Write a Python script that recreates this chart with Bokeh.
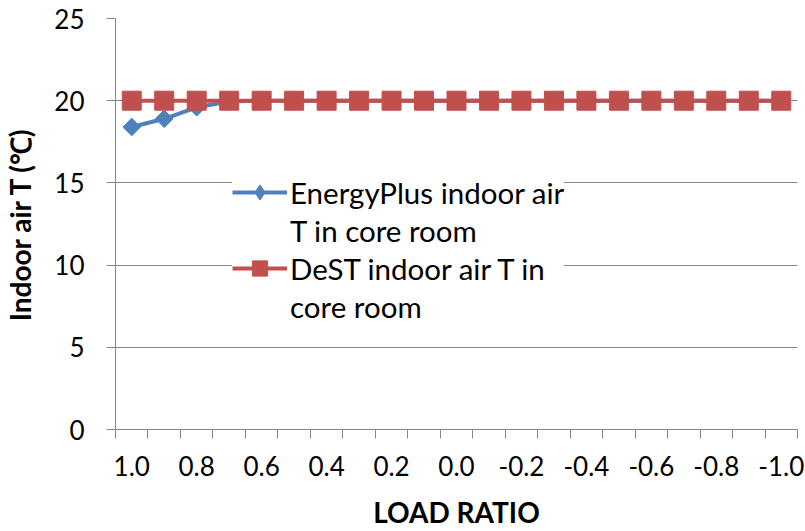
from bokeh.plotting import figure
from bokeh.models import Range1d, FixedTicker, NumeralTickFormatter, Legend, LegendItem
from bokeh.embed import file_html
from bokeh.resources import INLINE
import numpy as np

load_ratio = [1.0, 0.9, 0.8, 0.7, 0.6, 0.5, 0.4, 0.3, 0.2, 0.1, 0.0,
              -0.1, -0.2, -0.3, -0.4, -0.5, -0.6, -0.7, -0.8, -0.9, -1.0]
energyplus_T = [18.4, 18.9, 19.6, 19.95, 20.0, 20.0, 20.0, 20.0, 20.0, 20.0, 20.0,
                20.0, 20.0, 20.0, 20.0, 20.0, 20.0, 20.0, 20.0, 20.0, 20.0]
dest_T = [20.0] * 21
x_tick_labels = [1.0, 0.8, 0.6, 0.4, 0.2, 0.0, -0.2, -0.4, -0.6, -0.8, -1.0]
x_bounds = [1.05, 0.95, 0.85, 0.75, 0.65, 0.55, 0.45, 0.35, 0.25, 0.15, 0.05,
            -0.05, -0.15, -0.25, -0.35, -0.45, -0.55, -0.65, -0.75, -0.85, -0.95, -1.05]
y_ticks = [0, 5, 10, 15, 20, 25]

BLUE = "#4F81BD"
RED = "#C0504D"
GRAY = "#868686"
FONT = "Lato"

p = figure(width=805, height=531, output_backend="svg", toolbar_location=None,
           x_range=Range1d(1.05, -1.05), y_range=Range1d(0, 25),
           min_border_left=113, min_border_top=18, min_border_right=8, min_border_bottom=101)
p.outline_line_color = None
p.background_fill_color = "white"

# axes
p.xaxis.ticker = FixedTicker(ticks=x_tick_labels, minor_ticks=x_bounds)
p.xaxis.formatter = NumeralTickFormatter(format="0.0")
p.xaxis.major_tick_line_color = None
p.xaxis.minor_tick_line_color = GRAY
p.xaxis.minor_tick_out = 9
p.xaxis.minor_tick_in = 0
p.xaxis.axis_line_color = GRAY
p.xaxis.major_label_text_font = FONT
p.xaxis.major_label_text_font_size = "26px"
p.xaxis.major_label_text_color = "black"
p.xaxis.major_label_standoff = 17
p.xaxis.axis_label = "LOAD RATIO"
p.xaxis.axis_label_text_font = FONT
p.xaxis.axis_label_text_font_style = "bold"
p.xaxis.axis_label_text_font_size = "28px"
p.xaxis.axis_label_standoff = 16
p.xaxis.axis_label_text_color = "black"

p.yaxis.ticker = FixedTicker(ticks=y_ticks)
p.yaxis.minor_tick_line_color = None
p.yaxis.major_tick_line_color = GRAY
p.yaxis.major_tick_out = 9
p.yaxis.major_tick_in = 0
p.yaxis.axis_line_color = GRAY
p.yaxis.major_label_text_font = FONT
p.yaxis.major_label_text_font_size = "26px"
p.yaxis.major_label_text_color = "black"
p.yaxis.major_label_standoff = 22
p.yaxis.axis_label = "Indoor air T (℃)"
p.yaxis.axis_label_text_font = FONT
p.yaxis.axis_label_text_font_style = "bold"
p.yaxis.axis_label_text_font_size = "28px"
p.yaxis.axis_label_standoff = 14
p.yaxis.axis_label_text_color = "black"

p.xgrid.grid_line_color = None
p.ygrid.ticker = FixedTicker(ticks=y_ticks)
p.ygrid.grid_line_color = GRAY
p.ygrid.grid_line_width = 1

# series
l1 = p.line(load_ratio, energyplus_T, line_color=BLUE, line_width=4)
# diamond glyph used for the legend swatch; fully covered by the rotated squares below
s1_leg = p.scatter(load_ratio, energyplus_T, marker="diamond", size=15,
                   fill_color=BLUE, line_color=BLUE)
s1 = p.scatter(load_ratio, energyplus_T, marker="square", size=12.5, angle=np.pi / 4,
               fill_color=BLUE, line_color=BLUE)
l2 = p.line(load_ratio, dest_T, line_color=RED, line_width=4)
s2 = p.scatter(load_ratio, dest_T, marker="square", size=19,
               fill_color=RED, line_color=RED)

legend = Legend(items=[
    LegendItem(label="EnergyPlus indoor air", renderers=[l1, s1_leg]),
    LegendItem(label="T in core room", renderers=[]),
    LegendItem(label="DeST indoor air T in", renderers=[l2, s2]),
    LegendItem(label="core room", renderers=[]),
], location=(117, 104))
legend.label_text_font = FONT
legend.label_text_font_size = "29.5px"
legend.label_text_color = "black"
legend.border_line_color = None
legend.background_fill_color = "white"
legend.background_fill_alpha = 1.0
legend.glyph_width = 55
legend.glyph_height = 38
legend.label_height = 38
legend.label_standoff = 3
legend.padding = 11
legend.spacing = 0
legend.margin = 0
p.add_layout(legend, "center")

open("out.html", "w").write(file_html(p, INLINE))
